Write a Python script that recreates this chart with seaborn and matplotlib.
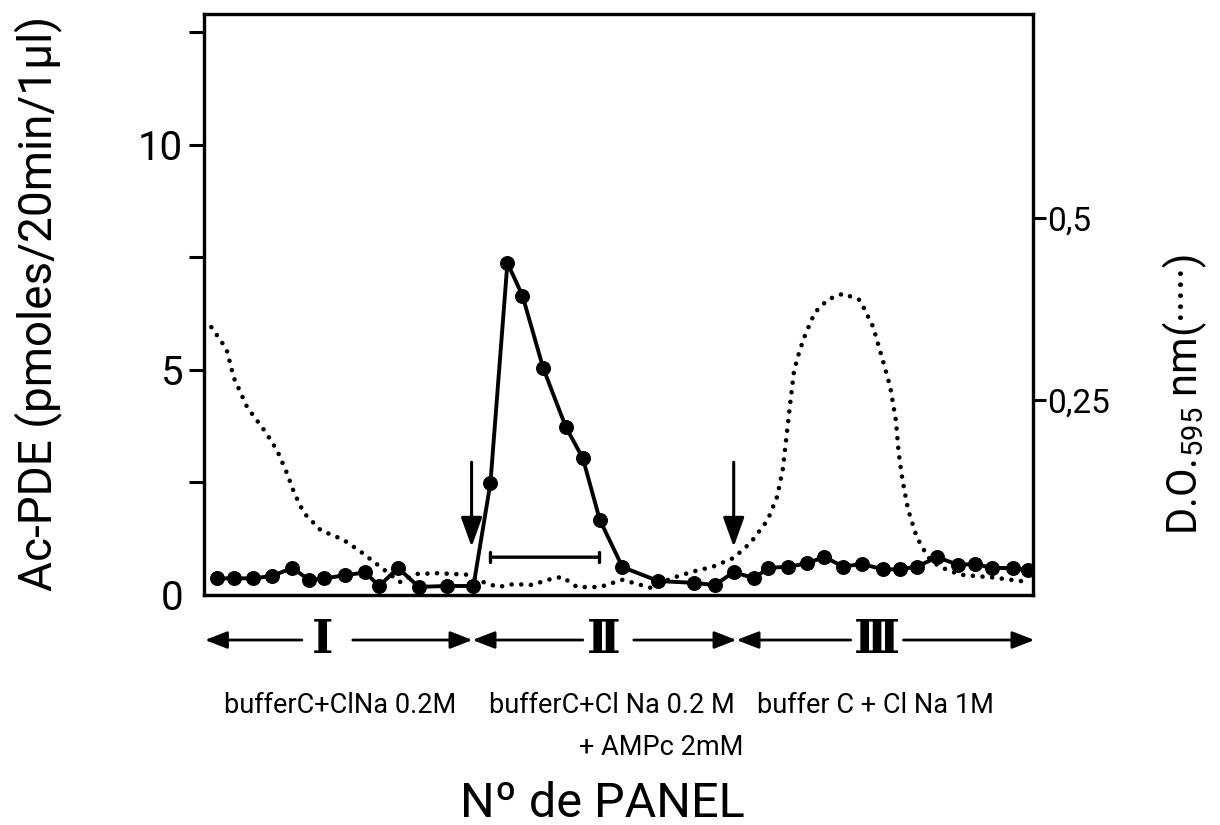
import matplotlib
matplotlib.use("Agg")
import matplotlib.pyplot as plt
import seaborn as sns
from matplotlib.transforms import blended_transform_factory

# ---------------- data ----------------
# fraction number (panel) for the Ac-PDE activity series (solid line)
pde_frac = [1, 1.9, 2.9, 3.9, 5.0, 5.9, 6.7, 7.8, 8.85, 9.6, 10.6, 11.7, 13.2, 14.6,
            15.5, 16.4, 17.2, 18.3, 19.5, 20.4, 21.3, 22.5, 24.4, 26.3, 27.4, 28.4,
            29.5, 30.2, 31.3, 32.3, 33.2, 34.2, 35.2, 36.3, 37.2, 38.1, 39.2, 40.3,
            41.2, 42.1, 43.2, 44.0]
pde_act = [0.37, 0.37, 0.37, 0.42, 0.6, 0.33, 0.37, 0.44, 0.5, 0.2, 0.6, 0.18, 0.2, 0.2,
           2.49, 7.38, 6.65, 5.04, 3.73, 3.04, 1.67, 0.62, 0.31, 0.27, 0.22, 0.51,
           0.37, 0.6, 0.63, 0.7, 0.85, 0.63, 0.69, 0.57, 0.57, 0.63, 0.84, 0.67,
           0.69, 0.6, 0.6, 0.55]

# optical density at 595 nm (dotted line, right axis)
od_frac = [0.7, 1.5, 1.9, 2.6, 3.6, 4.2, 4.7, 5.1, 5.6, 6.5, 7.7, 8.7, 10.0, 10.7,
           11.6, 12.7, 14.3, 15.1, 15.9, 16.7, 17.7, 18.7, 19.3, 20.1, 21.3, 22.5,
           24.0, 25.1, 26.2, 27.3, 28.4, 29.3, 30.2, 30.7, 31.0, 31.2, 31.4, 31.6,
           31.9, 32.2, 32.7, 33.4, 34.2, 35.1, 35.8, 36.3, 36.7, 37.0, 37.15, 37.35,
           37.65, 38.1, 38.7, 39.3, 40.4, 42.2, 44.0]
od_595 = [0.35, 0.32, 0.28, 0.24, 0.205, 0.18, 0.15, 0.122, 0.095, 0.071, 0.058, 0.04,
          0.014, 0.0, 0.011, 0.012, 0.01, 0.0, -0.007, -0.003, -0.004, 0.004, 0.007,
          -0.007, -0.007, 0.003, -0.008, 0.005, 0.014, 0.021, 0.033, 0.054, 0.085,
          0.117, 0.154, 0.2, 0.246, 0.29, 0.318, 0.34, 0.37, 0.388, 0.396, 0.387,
          0.35, 0.305, 0.268, 0.222, 0.177, 0.14, 0.099, 0.062, 0.034, 0.021, 0.01,
          0.006, 0.0]

left_ticks = [0, 2.5, 5, 7.5, 10, 12.5]
left_labels = ["0", "", "5", "", "10", ""]
right_ticks = [0.25, 0.5]
right_labels = ["0,25", "0,5"]

# elution steps (start of step II and III marked with arrows)
step_arrows = [14.5, 28.4]
step_bounds = [0.36, 14.55, 28.55, 44.35]
step_names = ["Ⅰ", "Ⅱ", "Ⅲ"]
step_centers = [6.6, 21.5, 36.0]
step_gaps = [(5.5, 8.2), (20.4, 23.1), (34.6, 37.4)]
pool_range = [15.5, 21.25]
buffers = ["bufferC+ClNa 0.2M", "bufferC+Cl Na 0.2 M", "buffer C + Cl Na 1M"]

# ---------------- style ----------------
sns.set_style("white")
FONT = ["Roboto", "DejaVu Sans"]
plt.rcParams["font.family"] = FONT
plt.rcParams["mathtext.default"] = "regular"
for k in ("text.color", "axes.labelcolor", "xtick.color", "ytick.color", "axes.edgecolor"):
    plt.rcParams[k] = "black"

fig = plt.figure(figsize=(12.2, 8.25), dpi=100)
ax = fig.add_axes([0.1672, 0.2788, 0.6795, 0.7042])
ax2 = ax.twinx()

sns.lineplot(x=pde_frac, y=pde_act, ax=ax, color="black", linewidth=2.8,
             marker="o", markersize=10, markeredgecolor="black", zorder=3)
sns.lineplot(x=od_frac, y=od_595, ax=ax2, color="black", linewidth=3.3,
             linestyle=(0, (0.01, 2.1)), dash_capstyle="round")

ax.set_xlim(0.31, 44.27)
ax.set_ylim(0, 12.91)
ax2.set_ylim(-0.0179, 0.78)

for a in (ax, ax2):
    for s in a.spines.values():
        s.set_linewidth(2.3)
        s.set_color("black")
    a.set_xticks([])
    a.set_xlabel("")
    a.set_ylabel("")

ax.set_yticks(left_ticks)
ax.set_yticklabels(left_labels)
ax.tick_params(axis="y", direction="out", length=11, width=2.2, pad=4,
               labelsize=29, left=True, right=False)
ax.yaxis.get_major_ticks()[0].tick1line.set_visible(False)

ax2.set_yticks(right_ticks)
ax2.set_yticklabels(right_labels)
ax2.tick_params(axis="y", direction="out", length=9, width=2.2, pad=1,
                labelsize=24, right=True, left=False)

# arrows marking the start of each new buffer
for xa in step_arrows:
    ax.annotate("", xy=(xa, 1.07), xytext=(xa, 2.95),
                arrowprops=dict(arrowstyle="-|>,head_length=1.0,head_width=0.36",
                                mutation_scale=18, color="black", lw=2.2,
                                shrinkA=0, shrinkB=0))

# pooled fractions bar
ax.annotate("", xy=(pool_range[0], 0.84), xytext=(pool_range[1], 0.84),
            arrowprops=dict(arrowstyle="|-|,widthA=0.25,widthB=0.25",
                            mutation_scale=14, color="black", lw=2.4,
                            shrinkA=0, shrinkB=0))

# step arrows under the axis
trans = blended_transform_factory(ax.transData, ax.transAxes)
ya = -0.0775
for i in range(3):
    lo, hi = step_bounds[i], step_bounds[i + 1]
    g0, g1 = step_gaps[i]
    for start, end in ((g0, lo), (g1, hi)):
        ax.annotate("", xy=(end, ya), xytext=(start, ya), xycoords=trans,
                    textcoords=trans, annotation_clip=False,
                    arrowprops=dict(arrowstyle="-|>,head_length=0.9,head_width=0.35",
                                    mutation_scale=15, color="black", lw=2.0,
                                    shrinkA=0, shrinkB=0))
    ax.text(step_centers[i], ya, step_names[i], transform=trans, ha="center",
            va="center", fontsize=33, fontweight="bold",
            family=["DejaVu Serif", "DejaVu Sans"])

# buffer descriptions
buf_x = [340, 612, 875]
for bx, txt in zip(buf_x, buffers):
    fig.text(bx / 1220, 1 - 713 / 825, txt, ha="center", va="baseline", fontsize=19.5)
fig.text(661 / 1220, 1 - 755 / 825, "+ AMPc 2mM", ha="center", va="baseline", fontsize=19.5)
fig.text(602 / 1220, 1 - 817 / 825, "Nº de PANEL", ha="center", va="baseline", fontsize=35)

# axis titles
fig.text(38 / 1220, 1 - 303 / 825, "Ac-PDE (pmoles/20min/1µl)", rotation=90,
         ha="center", va="center", fontsize=33)
fig.text(1185 / 1220, 1 - 395 / 825, "D.O.$_{595}$ nm(·····)", rotation=90,
         ha="center", va="center", fontsize=30)

fig.savefig("out.png", dpi=100)
